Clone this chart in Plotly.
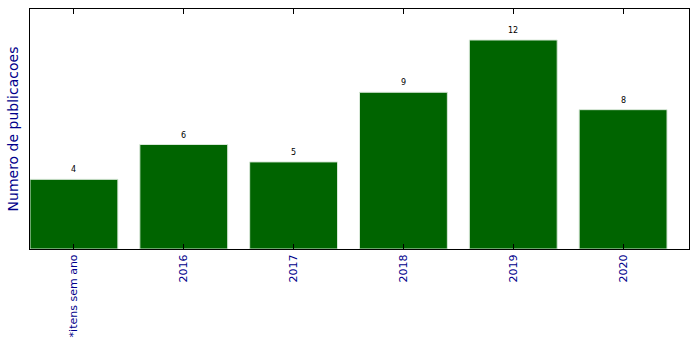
import plotly.graph_objects as go

categories = ["*itens sem ano", "2016", "2017", "2018", "2019", "2020"]
counts = [4, 6, 5, 9, 12, 8]

fig = go.Figure(go.Bar(
    x=categories, y=counts, width=0.8,
    marker=dict(color="#006400", line=dict(color="#d8e8d8", width=1)),
))

for i, v in enumerate(counts):
    fig.add_annotation(x=i, y=v, text=str(v), showarrow=False,
                       xref="x", yref="y",
                       yanchor="bottom", yshift=3,
                       font=dict(size=8, color="black", family="DejaVu Sans"))

fig.update_layout(
    width=699, height=349,
    margin=dict(l=30, r=10, t=9, b=100),
    plot_bgcolor="white", paper_bgcolor="white",
    showlegend=False,
    font=dict(family="DejaVu Sans"),
)
fig.update_xaxes(
    type="category", range=[-0.4, 5.6],
    showline=True, linecolor="black", linewidth=1, mirror="ticks",
    ticks="inside", ticklen=5, tickcolor="black",
    tickangle=-90, tickfont=dict(size=11, color="#00008B"),
    showgrid=False,
)
fig.update_yaxes(
    range=[0, 13.78],
    showline=True, linecolor="black", linewidth=1, mirror=True,
    ticks="", showticklabels=False, showgrid=False, zeroline=False,
    title=dict(text="Numero de publicacoes", font=dict(size=14, color="#00008B"), standoff=7),
)

fig.write_html("out.html")
